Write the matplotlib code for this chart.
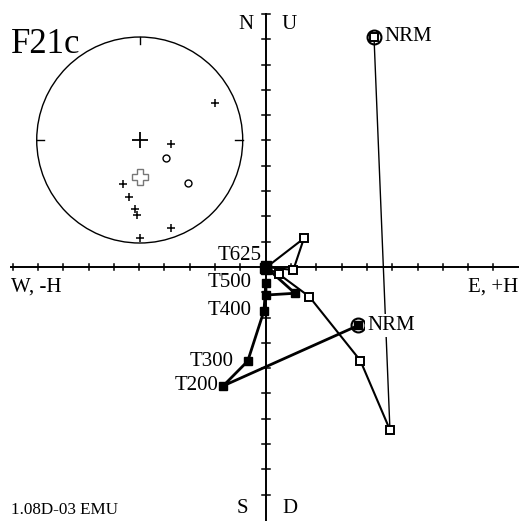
import matplotlib
matplotlib.use("Agg")
import matplotlib.pyplot as plt
from matplotlib.patches import Circle

# horizontal projection (filled squares), in tick units
h_steps = ["NRM", "T200", "T300", "T400", "T500", "T525", "T550", "T600", "T625"]
h_east = [3.66, -1.68, -0.71, -0.07, 0.01, 0.01, 1.16, 0.03, 0.0]
h_north = [-2.31, -4.70, -3.72, -1.74, -0.63, -1.11, -1.04, -0.03, 0.0]

# vertical projection (open squares)
v_hor = [4.28, 4.91, 3.74, 1.72, 0.53, 0.02, 1.51, 1.09, 0.0]
v_up = [9.09, -6.44, -3.70, -1.17, -0.29, -0.02, 1.13, -0.12, 0.0]

# equal-area net, east/north in net radius units
net_down_e = [0.731, 0.301, -0.159, -0.101, -0.046, -0.029, 0.301, 0.003]
net_down_n = [0.362, -0.039, -0.430, -0.550, -0.670, -0.728, -0.857, -0.954]
net_up_e = [0.252, 0.466]
net_up_n = [-0.178, -0.420]
mean_e, mean_n = 0.003, -0.356

sample = "F21c"
scale_text = "1.08D-03 EMU"

serif = ["Liberation Serif", "DejaVu Serif"]
plt.rcParams["font.family"] = serif

fig = plt.figure(figsize=(5.19, 5.21), dpi=100)
ax = fig.add_axes([0, 0, 1, 1])
ax.set_xlim(-10.50, 10.01)
ax.set_ylim(-10.04, 10.55)
ax.axis("off")

# axes with ticks
tk = 0.13
ax.plot([-10.05, 10.01], [0, 0], color="black", lw=1.4, zorder=1)
ax.plot([0, 0], [-10.04, 10.0], color="black", lw=1.4, zorder=1)
for i in range(-10, 10):
    if i != 0:
        ax.plot([i, i], [-tk, tk], color="black", lw=1.1, zorder=1)
for j in range(-9, 11):
    if j != 0:
        ax.plot([-tk, tk + 0.05], [j, j], color="black", lw=1.1, zorder=1)

# vertical projection path
ax.plot(v_hor[:2], v_up[:2], color="black", lw=1.0, zorder=2)
ax.plot(v_hor[1:], v_up[1:], color="black", lw=1.5, zorder=2)
ax.plot(v_hor, v_up, ls="none", marker="s", ms=5.5, mfc="white",
        mec="black", mew=1.4, zorder=4)

# horizontal projection path
ax.plot(h_east, h_north, color="black", lw=2.0, marker="s", ms=5.5,
        mfc="black", mec="black", zorder=3)
# cluster of end steps near the origin
ax.plot([0.03, -0.03, 0.02], [0.03, -0.06, -0.1], ls="none", marker="s",
        ms=7, color="black", zorder=6)

# NRM circles
ax.plot([h_east[0], v_hor[0]], [h_north[0], v_up[0]], ls="none", marker="o",
        ms=10, mfc="none", mec="black", mew=1.5, zorder=5)

fs = 15
ax.text(v_hor[0] + 0.4, v_up[0], "NRM", fontsize=fs, va="center", ha="left")
ax.text(h_east[0] + 0.35, h_north[0], "NRM", fontsize=fs, va="center",
        ha="left", zorder=6,
        bbox=dict(facecolor="white", edgecolor="none", pad=1.5))
ax.text(-0.18, 0.47, "T625", fontsize=fs, ha="right", va="center")
ax.text(-0.55, h_north[4], "T500", fontsize=fs, ha="right", va="center")
ax.text(-0.55, h_north[3], "T400", fontsize=fs, ha="right", va="center")
ax.text(h_east[2] - 0.55, h_north[2], "T300", fontsize=fs, ha="right", va="center")
ax.text(h_east[1] - 0.2, h_north[1], "T200", fontsize=fs, ha="right", va="center")

ax.text(-0.78, 9.58, "N", fontsize=fs, ha="center", va="center")
ax.text(0.93, 9.58, "U", fontsize=fs, ha="center", va="center")
ax.text(-0.93, -9.53, "S", fontsize=fs, ha="center", va="center")
ax.text(0.97, -9.53, "D", fontsize=fs, ha="center", va="center")
ax.text(-10.05, -0.8, "W, -H", fontsize=fs, ha="left", va="center")
ax.text(9.98, -0.8, "E, +H", fontsize=fs, ha="right", va="center")
ax.text(-10.05, -9.6, scale_text, fontsize=12.3, ha="left", va="center")
ax.text(-10.05, 8.8, sample, fontsize=25, ha="left", va="center")

# stereonet inset
net = fig.add_axes([0.0509, 0.5138, 0.4366, 0.4349])
net.set_xlim(-1.1, 1.1)
net.set_ylim(-1.1, 1.1)
net.set_aspect("equal")
net.axis("off")
net.add_patch(Circle((0, 0), 1.0, fill=False, color="black", lw=1.0))
t = 0.07
net.plot([0, 0], [1, 1 - t], color="black", lw=1.0)
net.plot([-1, -1 + t], [0, 0], color="black", lw=1.0)
net.plot([1, 1 - t], [0, 0], color="black", lw=1.0)
net.plot([0], [0], marker="+", ms=11, mew=1.3, color="black")
net.plot(net_down_e, net_down_n, ls="none", marker="+", ms=6, mew=1.1,
         color="black")
net.plot(net_up_e, net_up_n, ls="none", marker="o", ms=5, mfc="none",
         mec="black", mew=1.0)
net.plot([mean_e], [mean_n], marker="P", ms=11, mfc="white", mec="#777777",
         mew=1.0)

fig.savefig("out.png", dpi=100)
